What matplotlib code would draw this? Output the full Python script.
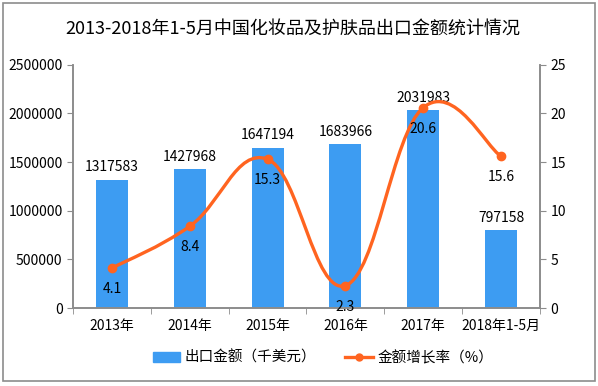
import numpy as np
import matplotlib
matplotlib.use('Agg')
import matplotlib.pyplot as plt
from matplotlib.path import Path
from matplotlib.patches import PathPatch, Rectangle
from matplotlib.lines import Line2D
from matplotlib.patches import Patch
from matplotlib.ticker import FuncFormatter

plt.rcParams['font.family'] = ['Noto Sans CJK SC', 'DejaVu Sans']

years = ['2013年', '2014年', '2015年', '2016年', '2017年', '2018年1-5月']
export_amount = [1317583, 1427968, 1647194, 1683966, 2031983, 797158]
growth_rate = [4.1, 8.4, 15.3, 2.3, 20.6, 15.6]

bar_color = '#3d9cf2'
line_color = '#ff6420'
axis_color = '#8c8c8c'

fig = plt.figure(figsize=(5.98, 3.86), dpi=100)
fig.patches.append(Rectangle((0.005, 0.012), 0.99, 0.98, transform=fig.transFigure,
                             fill=False, edgecolor='#8c8c8c', linewidth=1.2))

ax = fig.add_axes([0.122, 0.202, 0.781, 0.63])
ax2 = ax.twinx()

x = np.arange(len(years))
ax.bar(x, export_amount, width=0.41, color=bar_color, zorder=2)
for xi, v in zip(x, export_amount):
    ax.annotate(str(v), (xi, v), xytext=(0, 4), textcoords='offset points',
                ha='center', va='bottom', fontsize=10)

ax.set_xlim(-0.5, len(years) - 0.5)
ax.set_ylim(0, 2500000)
ax.set_yticks(np.arange(0, 2500001, 500000))
ax.yaxis.set_major_formatter(FuncFormatter(lambda v, p: '%d' % v))
ax.set_xticks(x)
ax.set_xticklabels(years, fontsize=10)
ax.set_xticks(np.arange(-0.5, len(years), 1), minor=True)
ax.tick_params(axis='x', which='major', length=0, pad=8)
ax.tick_params(axis='x', which='minor', length=4, color=axis_color)
ax.tick_params(axis='y', length=4, color=axis_color, labelsize=10)

# smooth line like the excel "smoothed line" option
s = 0.2
pts = list(zip(x.astype(float), growth_rate))
verts = [pts[0]]
codes = [Path.MOVETO]
n = len(pts)
for i in range(n - 1):
    p0 = pts[max(i - 1, 0)]
    p1 = pts[i]
    p2 = pts[i + 1]
    p3 = pts[min(i + 2, n - 1)]
    c1 = (p1[0] + (p2[0] - p0[0]) * s, p1[1] + (p2[1] - p0[1]) * s)
    c2 = (p2[0] - (p3[0] - p1[0]) * s, p2[1] - (p3[1] - p1[1]) * s)
    verts += [c1, c2, p2]
    codes += [Path.CURVE4] * 3
ax2.add_patch(PathPatch(Path(verts, codes), fill=False, edgecolor=line_color,
                        linewidth=2.4, zorder=3, capstyle='round'))
ax2.plot(x, growth_rate, linestyle='none', marker='o', markersize=6,
         color=line_color, zorder=4)
for xi, v in zip(x, growth_rate):
    ax2.annotate(str(v), (xi, v), xytext=(0, -10), textcoords='offset points',
                 ha='center', va='top', fontsize=10)
ax2.set_ylim(0, 25)
ax2.set_yticks(np.arange(0, 26, 5))
ax2.tick_params(axis='y', length=4, color=axis_color, labelsize=10)

for a in (ax, ax2):
    a.spines['top'].set_visible(False)
    for sp in ('left', 'right', 'bottom'):
        a.spines[sp].set_color(axis_color)
        a.spines[sp].set_linewidth(1.2)

fig.text(0.49, 0.925, '2013-2018年1-5月中国化妆品及护肤品出口金额统计情况',
         ha='center', va='center', fontsize=13)

handles = [Patch(color=bar_color), Line2D([], [], color=line_color, linewidth=2.4,
                                          marker='o', markersize=5)]
fig.legend(handles, ['出口金额（千美元）', '金额增长率（%）'], loc='center',
           bbox_to_anchor=(0.54, 0.073), ncol=2, frameon=False, fontsize=10.5,
           handlelength=1.9, handletextpad=0.3, columnspacing=2.0)

fig.savefig('out.png', dpi=100)
